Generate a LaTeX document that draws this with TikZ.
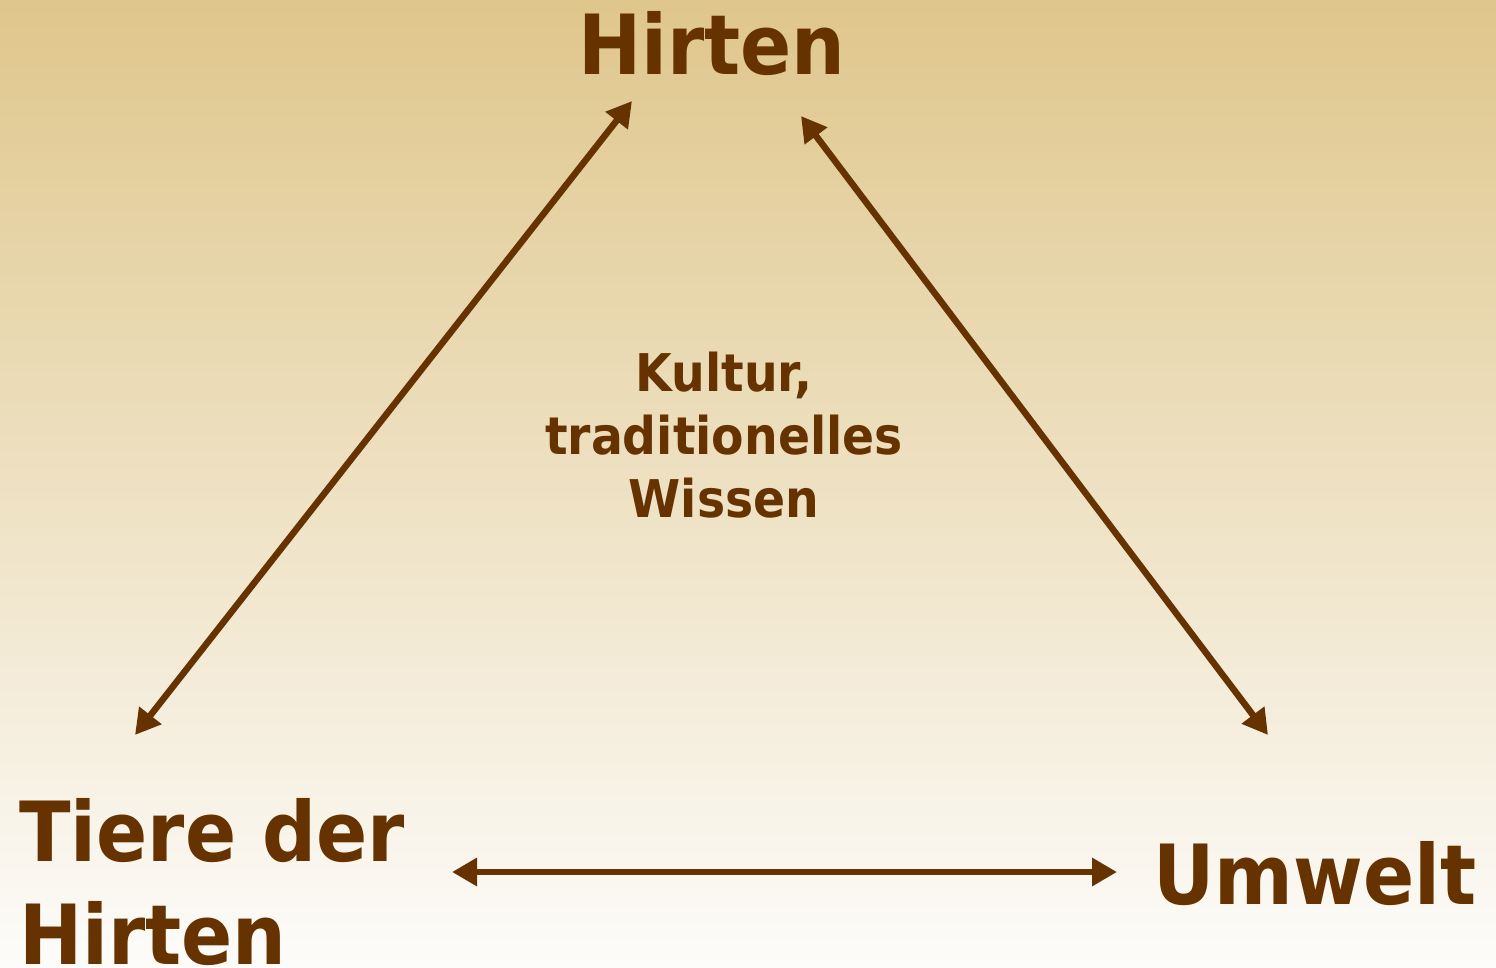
\documentclass[tikz,border=0pt]{standalone}
\usepackage{fontspec}
\setmainfont[FakeStretch=0.91]{DejaVu Sans}
\usetikzlibrary{arrows.meta}
\definecolor{brown}{HTML}{663300}
\definecolor{topbg}{HTML}{DFC68B}
\definecolor{botbg}{HTML}{FDFCFA}
\tikzset{
  big/.style={text=brown, inner sep=0pt, font=\bfseries\fontsize{83}{103}\selectfont},
  mid/.style={text=brown, inner sep=0pt, align=center, font=\bfseries\fontsize{52}{63}\selectfont},
  link/.style={draw=brown, line width=6.5pt, {Triangle[length=25pt,width=27pt]}-{Triangle[length=25pt,width=27pt]}}
}
\begin{document}
\begin{tikzpicture}[x=1pt,y=-1pt]
\useasboundingbox (0,0) rectangle (1496,968);
\shade[top color=topbg, bottom color=botbg] (0,0) rectangle (1496,968);
\node[big, anchor=base] (hirten) at (712,75) {Hirten};
\node[big, anchor=base west, align=left] (tiere) at (19,964) {Tiere der\\Hirten};
\node[big, anchor=base west] (umwelt) at (1153,904) {Umwelt};
\node[mid, anchor=base] (kultur) at (724,517) {Kultur,\\traditionelles\\Wissen};
\coordinate (lt) at (632,101);
\coordinate (lb) at (135,735);
\coordinate (rt) at (801,116);
\coordinate (rb) at (1268,735);
\coordinate (hl) at (452,872);
\coordinate (hr) at (1117,872);
\draw[link] (lt) -- (lb);
\draw[link] (rt) -- (rb);
\draw[link] (hl) -- (hr);
\end{tikzpicture}
\end{document}
